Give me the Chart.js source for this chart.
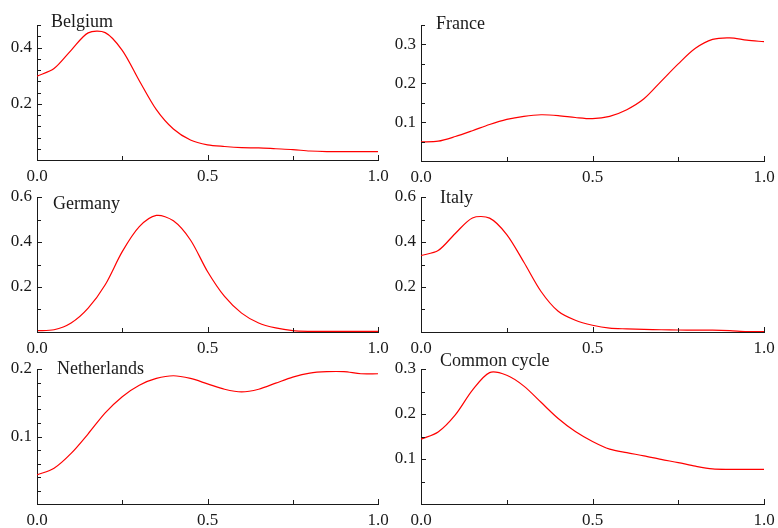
<!DOCTYPE html>
<html>
<head>
<meta charset="utf-8">
<script src="https://cdn.jsdelivr.net/npm/chart.js@4"></script>
<style>
    html, body { margin: 0; padding: 0; background: #fff; }
    #wrap { position: relative; width: 778px; height: 528px; }
    #wrap canvas { position: absolute; }
</style>
</head>
<body>
<div id="wrap">
    <canvas id="c0"></canvas>
    <canvas id="c1"></canvas>
    <canvas id="c2"></canvas>
    <canvas id="c3"></canvas>
    <canvas id="c4"></canvas>
    <canvas id="c5"></canvas>
</div>
<script>
// frequency grid shared by every panel
const xGrid = [0, 0.05, 0.1, 0.15, 0.2, 0.25, 0.3, 0.35, 0.4, 0.45, 0.5,
    0.55, 0.6, 0.65, 0.7, 0.75, 0.8, 0.85, 0.9, 0.95, 1];

const belgium = [0.298, 0.325, 0.390, 0.452, 0.453, 0.390, 0.282, 0.179, 0.110, 0.071, 0.054,
    0.048, 0.044, 0.043, 0.040, 0.037, 0.032, 0.030, 0.030, 0.030, 0.030];
const france = [0.049, 0.051, 0.063, 0.078, 0.094, 0.107, 0.115, 0.119, 0.117, 0.112, 0.109,
    0.115, 0.132, 0.160, 0.205, 0.250, 0.290, 0.313, 0.317, 0.311, 0.307];
const germany = [0.006, 0.010, 0.040, 0.106, 0.210, 0.357, 0.468, 0.518, 0.494, 0.409, 0.269,
    0.158, 0.084, 0.040, 0.018, 0.006, 0.003, 0.003, 0.003, 0.003, 0.003];
const italy = [0.340, 0.362, 0.438, 0.507, 0.506, 0.433, 0.310, 0.180, 0.092, 0.052, 0.030,
    0.017, 0.014, 0.012, 0.010, 0.009, 0.008, 0.008, 0.006, 0.002, 0.002];
const netherlands = [0.043, 0.053, 0.075, 0.104, 0.135, 0.159, 0.176, 0.186, 0.190, 0.186, 0.178,
    0.170, 0.166, 0.170, 0.179, 0.188, 0.194, 0.196, 0.196, 0.193, 0.193];
const commonCycle = [0.144, 0.160, 0.198, 0.253, 0.292, 0.286, 0.262, 0.226, 0.190, 0.161, 0.139,
    0.122, 0.114, 0.107, 0.099, 0.092, 0.084, 0.078, 0.077, 0.077, 0.077];

// axis ticks
const xTicks = [0, 0.25, 0.5, 0.75, 1];
const xTickLabels = ['0.0', '', '0.5', '', '1.0'];
const belgiumYLabels = [0.2, 0.4];
const franceYLabels = [0.1, 0.2, 0.3];
const germanyYLabels = [0.2, 0.4, 0.6];
const italyYLabels = [0.2, 0.4, 0.6];
const netherlandsYLabels = [0.1, 0.2];
const commonYLabels = [0.1, 0.2, 0.3];

const FONT = '"Liberation Serif", "Times New Roman", serif';
const INK = '#1a1a1a';

const panels = [
    { name: 'Belgium', values: belgium, yMax: 0.48, yStep: 0.04, yLabels: belgiumYLabels,
      left: 0, top: 0, w: 389, h: 185, yw: 37, padTop: 25, padRight: 11, xh: 25, tx: 51, ty: 27 },
    { name: 'France', values: france, yMax: 0.35, yStep: 0.05, yLabels: franceYLabels,
      left: 389, top: 0, w: 389, h: 185, yw: 32, padTop: 25, padRight: 14, xh: 24, tx: 436, ty: 29 },
    { name: 'Germany', values: germany, yMax: 0.6, yStep: 0.1, yLabels: germanyYLabels,
      left: 0, top: 185, w: 389, h: 172, yw: 37, padTop: 12, padRight: 11, xh: 25, tx: 53, ty: 209 },
    { name: 'Italy', values: italy, yMax: 0.6, yStep: 0.1, yLabels: italyYLabels,
      left: 389, top: 185, w: 389, h: 172, yw: 32, padTop: 12, padRight: 14, xh: 25, tx: 440, ty: 203 },
    { name: 'Netherlands', values: netherlands, yMax: 0.2, yStep: 0.02, yLabels: netherlandsYLabels,
      left: 0, top: 350, w: 389, h: 178, yw: 37, padTop: 19, padRight: 11, xh: 24, tx: 57, ty: 374 },
    { name: 'Common cycle', values: commonCycle, yMax: 0.3, yStep: 0.05, yLabels: commonYLabels,
      left: 389, top: 350, w: 389, h: 178, yw: 32, padTop: 19, padRight: 14, xh: 24, tx: 440, ty: 366 }
];

const isLabel = (list, v) => list.some(l => Math.abs(l - v) < 1e-6);

// tick marks point inward, like the original
const innerTicks = {
    id: 'innerTicks',
    afterDraw(chart, args, opts) {
        const { ctx, chartArea: a, scales: { x, y } } = chart;
        ctx.save();
        ctx.strokeStyle = INK;
        ctx.lineWidth = 1;
        ctx.beginPath();
        xTicks.forEach((v, i) => {
            const px = Math.round(x.getPixelForValue(v)) + 0.5;
            const len = xTickLabels[i] ? 5 : 4;
            ctx.moveTo(px, a.bottom);
            ctx.lineTo(px, a.bottom - len);
        });
        y.ticks.forEach(t => {
            const py = Math.round(y.getPixelForValue(t.value)) + 0.5;
            const len = isLabel(opts.labels, t.value) ? 5 : 4;
            ctx.moveTo(a.left, py);
            ctx.lineTo(a.left + len, py);
        });
        ctx.stroke();
        ctx.restore();
    }
};

const panelTitle = {
    id: 'panelTitle',
    afterDraw(chart, args, opts) {
        const ctx = chart.ctx;
        ctx.save();
        ctx.font = '18px ' + FONT;
        ctx.fillStyle = INK;
        ctx.textBaseline = 'alphabetic';
        ctx.fillText(opts.text, opts.x, opts.y);
        ctx.restore();
    }
};

panels.forEach((p, i) => {
    const canvas = document.getElementById('c' + i);
    canvas.width = p.w;
    canvas.height = p.h;
    canvas.style.left = p.left + 'px';
    canvas.style.top = p.top + 'px';

    new Chart(canvas, {
        type: 'line',
        data: {
            datasets: [{
                data: xGrid.map((x, k) => ({ x, y: p.values[k] })),
                borderColor: '#ff0000',
                borderWidth: 1.2,
                pointRadius: 0,
                tension: 0.3,
                fill: false
            }]
        },
        options: {
            responsive: false,
            animation: false,
            events: [],
            layout: { padding: { top: p.padTop, right: p.padRight, left: 0, bottom: 0 } },
            plugins: {
                legend: { display: false },
                tooltip: { enabled: false },
                innerTicks: { labels: p.yLabels },
                panelTitle: { text: p.name, x: p.tx - p.left, y: p.ty - p.top }
            },
            scales: {
                x: {
                    type: 'linear',
                    min: 0,
                    max: 1,
                    afterBuildTicks: s => { s.ticks = xTicks.map(v => ({ value: v })); },
                    afterFit: s => { s.height = p.xh; s.paddingLeft = 0; s.paddingRight = 0; },
                    grid: { drawOnChartArea: false, drawTicks: false },
                    border: { color: INK, width: 1 },
                    ticks: {
                        autoSkip: false,
                        maxRotation: 0,
                        padding: 6,
                        color: INK,
                        font: { family: FONT, size: 17 },
                        callback: (v, k) => xTickLabels[k]
                    }
                },
                y: {
                    type: 'linear',
                    min: 0,
                    max: p.yMax,
                    afterBuildTicks: s => {
                        const t = [];
                        for (let v = 0; v <= p.yMax + 1e-9; v += p.yStep) t.push({ value: +v.toFixed(4) });
                        s.ticks = t;
                    },
                    afterFit: s => { s.width = p.yw; s.paddingTop = 0; s.paddingBottom = 0; },
                    grid: { drawOnChartArea: false, drawTicks: false },
                    border: { color: INK, width: 1 },
                    ticks: {
                        autoSkip: false,
                        padding: 5,
                        color: INK,
                        font: { family: FONT, size: 17 },
                        callback: v => isLabel(p.yLabels, v) ? v.toFixed(1) : ''
                    }
                }
            }
        },
        plugins: [innerTicks, panelTitle]
    });
});
</script>
</body>
</html>
